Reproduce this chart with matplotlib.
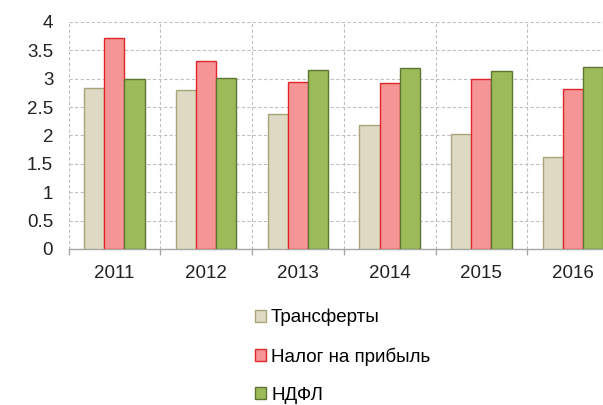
import numpy as np
import matplotlib
matplotlib.use("Agg")
import matplotlib.pyplot as plt

plt.rcParams['font.family'] = ['Liberation Sans', 'DejaVu Sans']

years = ["2011", "2012", "2013", "2014", "2015", "2016"]
transfers = [2.84, 2.81, 2.38, 2.18, 2.02, 1.62]
profit_tax = [3.72, 3.31, 2.94, 2.92, 2.99, 2.82]
ndfl = [3.00, 3.02, 3.15, 3.19, 3.13, 3.21]

series = [
    ("Трансферты", transfers, "#DDD9C3", "#A9A47C"),
    ("Налог на прибыль", profit_tax, "#F69595", "#E0262A"),
    ("НДФЛ", ndfl, "#9BBB59", "#5E7531"),
]

fig = plt.figure(figsize=(6.03, 4.05), dpi=100)
ax = fig.add_axes([0.1136, 0.3852, 0.913, 0.5605])

x = np.arange(len(years))
w = 0.22
for i, (name, vals, fc, ec) in enumerate(series):
    ax.bar(x + (i - 1) * w, vals, w, color=fc, edgecolor=ec, linewidth=1.0,
           label=name, zorder=3)

ax.set_xlim(-0.5, len(years) - 0.5)
ax.set_ylim(0, 4)
ax.set_yticks(np.arange(0, 4.01, 0.5))
ax.set_yticklabels(["0", "0.5", "1", "1.5", "2", "2.5", "3", "3.5", "4"])
ax.set_xticks(x)
ax.set_xticklabels(years)
ax.set_xticks(np.arange(-0.5, len(years), 1), minor=True)

ax.grid(axis="y", which="major", color="#C0C0C0", linestyle=(0, (3, 2)), linewidth=0.8, zorder=0)
ax.grid(axis="x", which="minor", color="#C0C0C0", linestyle=(0, (3, 2)), linewidth=0.8, zorder=0)
ax.grid(axis="x", which="major", visible=False)

for s in ["left", "top", "right"]:
    ax.spines[s].set_visible(False)
ax.spines["bottom"].set_color("#A6A6A6")
ax.spines["bottom"].set_linewidth(1.0)

ax.tick_params(axis="y", length=0, pad=11, labelsize=13.5, colors="#222222")
ax.tick_params(axis="x", which="major", length=0, pad=11.5, labelsize=13.5, colors="#222222")
ax.tick_params(axis="x", which="minor", length=4.5, width=1.0, color="#A6A6A6", direction="out")

fig.legend(loc="upper left", bbox_to_anchor=(0.41, 0.256), frameon=False,
           fontsize=13.5, handlelength=0.62, handleheight=0.62, handletextpad=0.25,
           labelspacing=1.12, borderaxespad=0)

fig.savefig("out.png", dpi=100)
